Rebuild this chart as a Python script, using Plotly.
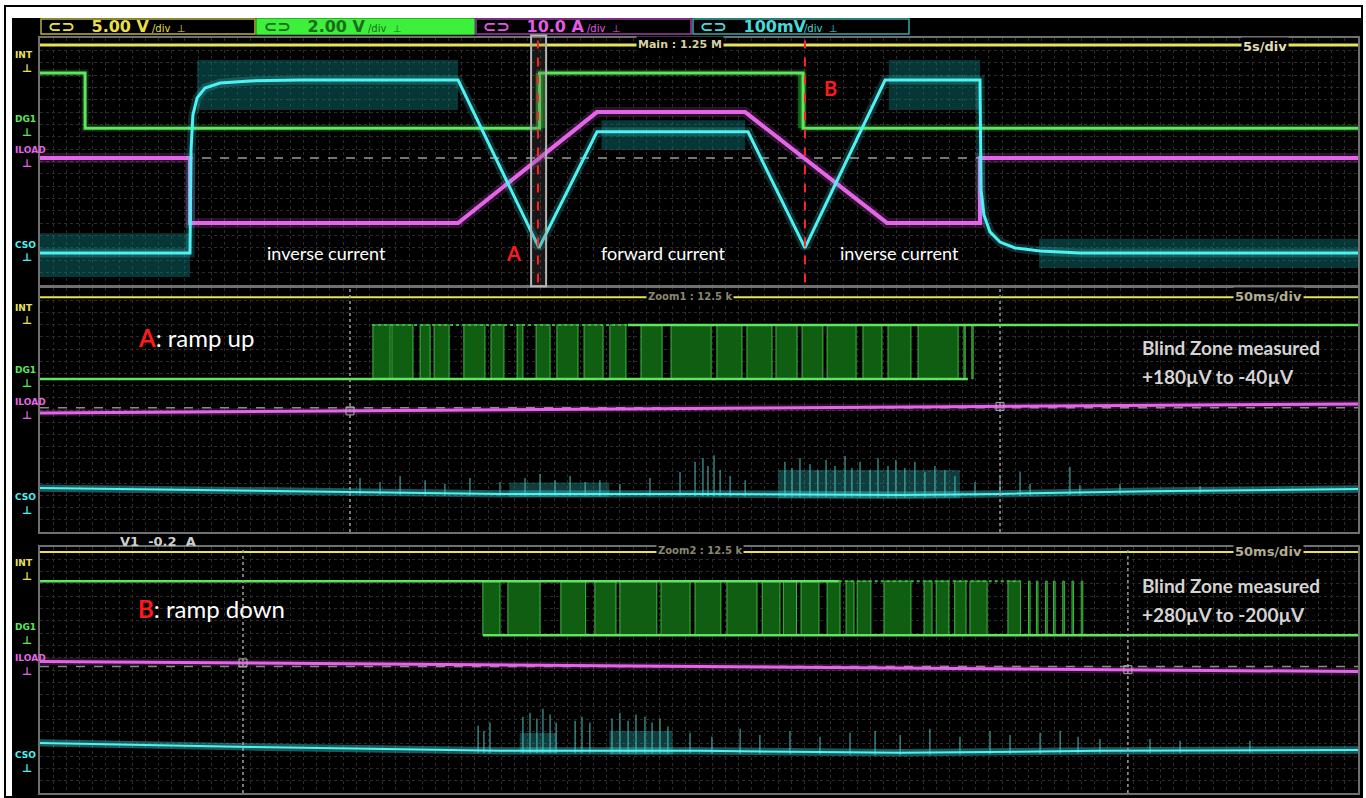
import plotly.graph_objects as go
import numpy as np

# ======================= DATA =======================
# Main window: time in s (5 s/div, 10 div), vertical in screen divisions (0..8)
main_int_t = [0, 50]
main_int_v = [7.77, 7.77]
main_dg1_t = [0, 1.71, 1.71, 18.95, 18.95, 28.95, 28.95, 50]
main_dg1_v = [6.87, 6.87, 5.08, 5.08, 6.87, 6.87, 5.08, 5.08]
main_dg1_burst_start = [18.80, 28.75]
main_dg1_burst_end = [19.20, 29.05]
main_iload_t = [0, 5.69, 5.69, 15.86, 21.13, 26.75, 32.13, 35.66, 35.66, 50]
main_iload_v = [4.11, 4.11, 2.01, 2.01, 5.60, 5.60, 2.01, 2.01, 4.11, 4.11]
main_iload_ref = 4.11
main_cso_t = [0, 5.69, 5.73, 5.80, 5.96, 6.26, 6.83, 7.97, 9.86, 15.86, 18.93, 21.13,
              26.86, 29.02, 32.06, 35.66, 35.70, 35.81, 36.04, 36.42, 36.99, 37.94, 39.45, 50]
main_cso_v = [1.04, 1.04, 4.37, 5.51, 6.06, 6.38, 6.54, 6.61, 6.64, 6.64, 1.20, 4.96,
              4.96, 1.20, 6.64, 6.64, 3.08, 2.27, 1.72, 1.39, 1.20, 1.10, 1.04, 1.04]
main_cso_band_t0 = [0, 5.96, 21.3, 32.2, 37.9]
main_cso_band_t1 = [5.69, 15.86, 26.75, 35.66, 50]
main_cso_band_lo = [0.26, 5.67, 4.37, 5.67, 0.55]
main_cso_band_hi = [1.68, 7.29, 5.34, 7.29, 1.50]
main_marker_t = [18.89, 29.02]          # cursor A, cursor B
main_zoom_window = [18.63, 19.20]

# Zoom 1 (ramp up): time in ms (50 ms/div)
z1_int_v = 7.70
z1_dg1_lo, z1_dg1_hi = 5.02, 6.79
z1_dg1_lo_t = [0, 352]
z1_dg1_hi_t = [223, 500]
z1_dg1_dim_t = [126, 223]
z1_burst_start = [126.3, 133.5, 144.2, 149.5, 160.8, 171.1, 181.0, 188.2, 196.1, 206.4, 216.2,
                  228.0, 239.4, 256.8, 268.2, 279.2, 289.1, 298.6, 312.2, 321.7, 333.1, 350.5, 353.5]
z1_burst_end = [132.8, 141.5, 148.0, 155.2, 168.8, 176.0, 183.2, 193.5, 204.1, 213.6, 222.3,
                236.0, 254.6, 266.3, 277.7, 287.2, 297.0, 309.6, 319.4, 330.4, 348.3, 351.0, 354.0]
z1_iload_t = [0, 250, 500]
z1_iload_v = [3.90, 4.05, 4.20]
z1_iload_ref = 4.07
z1_cso_t = [0, 60.7, 117.6, 174.5, 250.4, 326.3, 364.2, 421.1, 500]
z1_cso_v = [1.44, 1.38, 1.31, 1.25, 1.25, 1.21, 1.25, 1.34, 1.41]
z1_spike_t = [121.4, 129.0, 136.6, 146.1, 153.6, 163.1, 174.5, 184.0, 189.7, 195.4, 201.1, 206.8,
              212.4, 220.0, 231.4, 242.8, 248.5, 251.5, 253.4, 255.7, 258.0, 261.8, 267.5, 282.6,
              285.3, 288.3, 292.1, 295.1, 298.2, 301.6, 305.4, 308.0, 311.1, 314.9, 317.9, 321.7,
              324.7, 328.1, 331.9, 335.7, 339.5, 343.3, 347.1, 354.7, 364.2, 371.8, 375.6, 390.7,
              394.5, 409.7, 440.1]
z1_spike_top = [1.77, 1.64, 1.84, 1.70, 1.57, 1.77, 1.64, 1.77, 1.90, 1.70, 1.84, 1.64,
                1.70, 1.57, 1.77, 1.97, 2.30, 2.43, 2.16, 2.52, 2.03, 1.84, 1.70, 2.30,
                2.10, 2.43, 2.23, 2.03, 2.36, 2.16, 2.49, 2.10, 2.30, 2.03, 2.43, 2.16,
                2.36, 2.10, 2.30, 1.97, 2.16, 2.03, 1.84, 1.64, 1.77, 1.97, 1.57, 2.13,
                1.54, 1.57, 1.51]
z1_fuzz_t0 = [178, 280]
z1_fuzz_t1 = [216, 349]
z1_fuzz_lo = [1.15, 1.10]
z1_fuzz_hi = [1.62, 2.03]
z1_cursor_t = [117.6, 364.2]

# Zoom 2 (ramp down): time in ms (50 ms/div)
z2_int_v = 7.84
z2_dg1_lo, z2_dg1_hi = 5.13, 6.89
z2_dg1_hi_t = [0, 303]
z2_dg1_dim_t = [303, 372]
z2_dg1_lo_t = [168, 500]
z2_burst_start = [168.0, 177.5, 197.6, 210.5, 220.0, 235.6, 248.5, 260.6, 274.0, 282.0, 288.7,
                  298.6, 305.8, 310.0, 320.2, 335.4, 340.0, 347.0, 352.8, 367.2, 375.0, 378.0,
                  381.5, 384.5, 388.0, 391.5, 395.0]
z2_burst_end = [174.5, 189.7, 207.0, 218.5, 234.0, 246.6, 258.3, 272.0, 280.7, 287.0, 295.5,
                303.5, 308.8, 315.2, 330.4, 338.4, 344.8, 351.3, 359.3, 372.0, 375.6, 378.6,
                382.1, 385.1, 388.6, 392.1, 395.6]
z2_iload_t = [0, 250, 500]
z2_iload_v = [4.28, 4.12, 3.95]
z2_iload_ref = 4.11
z2_cso_t = [0, 79.7, 174.5, 250.4, 326.3, 402.1, 500]
z2_cso_v = [1.63, 1.50, 1.37, 1.37, 1.31, 1.37, 1.40]
z2_spike_t = [166.2, 168.4, 170.7, 183.2, 185.9, 188.5, 190.8, 193.5, 195.8, 203.0, 205.6, 208.6,
              217.0, 220.0, 223.1, 226.1, 229.5, 232.2, 235.2, 238.2, 246.6, 254.9, 265.6, 273.1,
              284.5, 295.9, 307.3, 316.8, 326.3, 337.6, 349.0, 360.4, 368.0, 379.4, 387.0, 393.8,
              402.1, 421.1, 432.5, 459.0]
z2_spike_top = [2.19, 2.02, 2.29, 2.48, 2.61, 2.42, 2.74, 2.55, 2.29, 2.35, 2.48, 2.29,
                2.42, 2.61, 2.35, 2.55, 2.48, 2.29, 2.42, 2.16, 1.96, 1.83, 2.09, 1.89,
                2.02, 1.83, 1.96, 2.02, 1.89, 2.09, 1.83, 2.02, 1.89, 1.96, 2.02, 1.83,
                1.76, 1.76, 1.70, 1.70]
z2_fuzz_t0 = [182, 216]
z2_fuzz_t1 = [196, 240]
z2_fuzz_lo = [1.30, 1.25]
z2_fuzz_hi = [1.95, 2.02]
z2_cursor_t = [77.0, 412.7]

header_labels = ["5.00 V", "2.00 V", "10.0 A", "100mV"]
channel_names = ["INT", "DG1", "ILOAD", "CSO"]

# ======================= STYLE / LAYOUT =======================
W, H = 1366, 798
YEL, GRN, MAG, CYA = "#e8e25a", "#5ee65e", "#e565ea", "#4ff2f2"
DKGRN = "#0f5e12"
BAND = "rgba(15,120,120,0.45)"
LBL_FONT = "DejaVu Sans"
TXT_FONT = "Lato"


def px(x):
    return x / W


def py(y):
    return 1 - y / H


X_DOM = [px(40), px(1358)]
PANELS = [
    dict(n="", ydom=[py(285), py(38)], xr=[0, 50], xd=0.5),
    dict(n="2", ydom=[py(532), py(288)], xr=[0, 500], xd=5),
    dict(n="3", ydom=[py(793), py(547)], xr=[0, 500], xd=5),
]

fig = go.Figure()


def add_line(t, v, color, width, n, dash=None, opacity=1.0):
    fig.add_trace(go.Scatter(x=t, y=v, mode="lines",
                             line=dict(color=color, width=width, dash=dash),
                             opacity=opacity, xaxis="x" + n, yaxis="y" + n,
                             hoverinfo="skip", showlegend=False))


def add_glow_line(t, v, color, width, n, glow=6):
    add_line(t, v, color, width + glow, n, opacity=0.18)
    add_line(t, v, color, width, n)


def add_boxes(t0, t1, lo, hi, fill, n, edge=None, ew=1.0):
    xs, ys = [], []
    for a, b, l, h in zip(t0, t1, lo, hi):
        xs += [a, b, b, a, a, None]
        ys += [l, l, h, h, l, None]
    fig.add_trace(go.Scatter(x=xs, y=ys, mode="lines", fill="toself", fillcolor=fill,
                             line=dict(color=edge if edge else "rgba(0,0,0,0)", width=ew),
                             xaxis="x" + n, yaxis="y" + n, hoverinfo="skip", showlegend=False))


def add_spikes(t, top, base_t, base_v, color, n):
    xs, ys = [], []
    for a, h in zip(t, top):
        b = float(np.interp(a, base_t, base_v)) - 0.08
        xs += [a, a, None]
        ys += [b, h, None]
    fig.add_trace(go.Scatter(x=xs, y=ys, mode="lines", line=dict(color=color, width=1.2),
                             xaxis="x" + n, yaxis="y" + n, hoverinfo="skip", showlegend=False))


def add_trace_band(t, v, half, color, n):
    # thickness of the noisy trace around its centre line
    fig.add_trace(go.Scatter(x=t, y=[a - half for a in v], mode="lines",
                             line=dict(width=0, color="rgba(0,0,0,0)"),
                             xaxis="x" + n, yaxis="y" + n, hoverinfo="skip", showlegend=False))
    fig.add_trace(go.Scatter(x=t, y=[a + half for a in v], mode="lines", fill="tonexty",
                             fillcolor=color, line=dict(width=0, color="rgba(0,0,0,0)"),
                             xaxis="x" + n, yaxis="y" + n, hoverinfo="skip", showlegend=False))


# ---------- panel 1: main ----------
n = ""
add_boxes(main_cso_band_t0, main_cso_band_t1, main_cso_band_lo, main_cso_band_hi, BAND, n)
add_line([0, 50], [main_iload_ref] * 2, "#9a9a9a", 1.5, n, dash="dash")
add_line(main_int_t, main_int_v, YEL, 3, n)
add_boxes(main_dg1_burst_start, main_dg1_burst_end, [5.08] * 2, [6.87] * 2, DKGRN, n)
add_glow_line(main_dg1_t, main_dg1_v, GRN, 3, n, glow=4)
add_glow_line(main_iload_t, main_iload_v, MAG, 4, n)
add_glow_line(main_cso_t, main_cso_v, CYA, 3, n)

# ---------- panel 2: zoom ramp up ----------
n = "2"
add_line([0, 500], [z1_iload_ref] * 2, "#8a8a8a", 1.5, n, dash="dash")
add_line([0, 500], [z1_int_v] * 2, YEL, 2, n)
add_boxes(z1_burst_start, z1_burst_end, [z1_dg1_lo] * len(z1_burst_start),
          [z1_dg1_hi] * len(z1_burst_start), DKGRN, n, edge="#3fb83f", ew=1)
add_line(z1_dg1_lo_t, [z1_dg1_lo] * 2, GRN, 2.5, n)
add_line(z1_dg1_hi_t, [z1_dg1_hi] * 2, GRN, 2.5, n)
add_line(z1_dg1_dim_t, [z1_dg1_hi] * 2, "#3fb83f", 2, n, dash="dot")
add_glow_line(z1_iload_t, z1_iload_v, MAG, 3, n, glow=4)
add_boxes(z1_fuzz_t0, z1_fuzz_t1, z1_fuzz_lo, z1_fuzz_hi, "rgba(40,150,150,0.40)", n)
add_spikes(z1_spike_t, z1_spike_top, z1_cso_t, z1_cso_v, "rgba(80,200,200,0.8)", n)
add_trace_band(z1_cso_t, z1_cso_v, 0.12, "rgba(60,200,200,0.45)", n)
add_line(z1_cso_t, z1_cso_v, CYA, 2, n)

# ---------- panel 3: zoom ramp down ----------
n = "3"
add_line([0, 500], [z2_iload_ref] * 2, "#8a8a8a", 1.5, n, dash="dash")
add_line([0, 500], [z2_int_v] * 2, YEL, 2, n)
add_boxes(z2_burst_start, z2_burst_end, [z2_dg1_lo] * len(z2_burst_start),
          [z2_dg1_hi] * len(z2_burst_start), DKGRN, n, edge="#3fb83f", ew=1)
add_line(z2_dg1_hi_t, [z2_dg1_hi] * 2, GRN, 2.5, n)
add_line(z2_dg1_dim_t, [z2_dg1_hi] * 2, "#3fb83f", 2, n, dash="dot")
add_line(z2_dg1_lo_t, [z2_dg1_lo] * 2, GRN, 2.5, n)
add_glow_line(z2_iload_t, z2_iload_v, MAG, 3, n, glow=4)
add_boxes(z2_fuzz_t0, z2_fuzz_t1, z2_fuzz_lo, z2_fuzz_hi, "rgba(40,150,150,0.40)", n)
add_spikes(z2_spike_t, z2_spike_top, z2_cso_t, z2_cso_v, "rgba(80,200,200,0.8)", n)
add_trace_band(z2_cso_t, z2_cso_v, 0.12, "rgba(60,200,200,0.45)", n)
add_line(z2_cso_t, z2_cso_v, CYA, 2, n)

# cursor square markers on ILOAD
for n, ct, it, iv in [("2", z1_cursor_t, z1_iload_t, z1_iload_v),
                      ("3", z2_cursor_t, z2_iload_t, z2_iload_v)]:
    fig.add_trace(go.Scatter(x=ct, y=list(np.interp(ct, it, iv)), mode="markers",
                             marker=dict(symbol="square-open", size=8, color="#b0b0b0"),
                             xaxis="x" + n, yaxis="y" + n, hoverinfo="skip", showlegend=False))

# ---------- axes ----------
layout_axes = {}
for p in PANELS:
    n = p["n"]
    layout_axes["xaxis" + n] = dict(domain=X_DOM, range=p["xr"], anchor="y" + n,
                                    showticklabels=False, ticks="", showgrid=True,
                                    gridcolor="#2c2c2c", griddash="dot", gridwidth=1,
                                    tick0=0, dtick=p["xd"], zeroline=False, showline=True,
                                    mirror=True, linecolor="#707070", linewidth=1.5,
                                    fixedrange=True)
    layout_axes["yaxis" + n] = dict(domain=p["ydom"], range=[0, 8], anchor="x" + n,
                                    showticklabels=False, ticks="", showgrid=True,
                                    gridcolor="#2c2c2c", griddash="dot", gridwidth=1,
                                    tick0=0, dtick=0.4, zeroline=False, showline=True,
                                    mirror=True, linecolor="#707070", linewidth=1.5,
                                    fixedrange=True)

shapes = []
# outer frame and black screen
shapes.append(dict(type="rect", xref="paper", yref="paper", x0=px(5), x1=px(1362),
                   y0=py(797), y1=py(6), line=dict(color="black", width=2),
                   fillcolor="white", layer="below"))
shapes.append(dict(type="rect", xref="paper", yref="paper", x0=px(12), x1=px(1361),
                   y0=py(796), y1=py(18), line=dict(width=0), fillcolor="black", layer="below"))
# header boxes
hdr_edges = [40, 256, 475, 692, 910]
hdr_fill = ["black", "#3cf03c", "black", "black"]
hdr_line = ["#b8b23a", "#3cf03c", "#a040a8", "#3aa8a8"]
hdr_text = ["#e6df4a", "#1d6b1d", "#e05ce0", "#46dada"]
for i in range(4):
    shapes.append(dict(type="rect", xref="paper", yref="paper", x0=px(hdr_edges[i] + 1),
                       x1=px(hdr_edges[i + 1] - 1), y0=py(34), y1=py(19),
                       line=dict(color=hdr_line[i], width=1.5), fillcolor=hdr_fill[i]))
# zoom window box and A/B marker lines in main panel
shapes.append(dict(type="rect", xref="x", yref="y domain", x0=main_zoom_window[0],
                   x1=main_zoom_window[1], y0=-0.005, y1=1.01,
                   line=dict(color="#b5b5b5", width=2), fillcolor="rgba(90,90,90,0.25)"))
for t in main_marker_t:
    shapes.append(dict(type="line", xref="x", yref="y domain", x0=t, x1=t, y0=0.01, y1=0.99,
                       line=dict(color="#ff2222", width=2, dash="dash")))
# cursors in zoom panels
for n, cts in [("2", z1_cursor_t), ("3", z2_cursor_t)]:
    for t in cts:
        shapes.append(dict(type="line", xref="x" + n, yref="y" + n + " domain", x0=t, x1=t,
                           y0=0, y1=1, line=dict(color="#a0a0a0", width=1.5, dash="dot")))

ann = []


def text(x, y, s, color, size, font=TXT_FONT, xanchor="center", bg=None, bold=False):
    if bold:
        s = "<b>" + s + "</b>"
    d = dict(x=px(x), y=py(y), xref="paper", yref="paper", text=s, showarrow=False,
             font=dict(color=color, size=size, family=font), xanchor=xanchor, yanchor="middle")
    if bg:
        d["bgcolor"] = bg
        d["borderpad"] = 1
    ann.append(d)


# header labels
hdr_text_x = [46, 262, 481, 698]
for i in range(4):
    text(hdr_text_x[i], 26.5, "⊂⊃   " + header_labels[i], hdr_text[i], 16,
         font=LBL_FONT, xanchor="left", bold=True)
    text(hdr_text_x[i] + 104, 29, "/div  ⊥", hdr_text[i], 10, font=LBL_FONT, xanchor="left")

# left channel labels
label_rows = [[55, 119, 150, 245], [308, 370, 402, 497], [563, 627, 658, 755]]
lbl_colors = [YEL, GRN, MAG, CYA]
for rows in label_rows:
    for name, yy, c in zip(channel_names, rows, lbl_colors):
        text(13, yy, name, c, 9, font=LBL_FONT, bold=True, xanchor="left")
        text(27, yy + 13, "⊥", c, 11, font=LBL_FONT, bold=True)

# scope on-screen texts
text(680, 45, "Main : 1.25 M", "#d6d2a0", 11, font=LBL_FONT, bg="black", bold=True)
text(1265, 46, "5s/div", "#e0dcb8", 13, font=LBL_FONT, bg="black", bold=True)
text(690, 296, "Zoom1 : 12.5 k", "#8a8770", 10, font=LBL_FONT, bg="black", bold=True)
text(1268, 297, "50ms/div", "#b0ad90", 13, font=LBL_FONT, bg="black", bold=True)
text(700, 550, "Zoom2 : 12.5 k", "#8a8770", 10, font=LBL_FONT, bg="black", bold=True)
text(1268, 551, "50ms/div", "#b0ad90", 13, font=LBL_FONT, bg="black", bold=True)
text(118, 541, "V1  -0.2  A", "#cfcfcf", 13, font=LBL_FONT, xanchor="left", bold=True)

# explanatory overlays
text(326, 253, "inverse current", "white", 18)
text(663, 253, "forward current", "white", 18)
text(899, 253, "inverse current", "white", 18)
text(513, 253, "A", "#ff1a1a", 20, bold=True)
text(830, 88, "B", "#ff1a1a", 20, bold=True)
text(136, 338, "<span style='color:#ff1a1a'><b>A</b></span>: ramp up", "white", 24, xanchor="left")
text(136, 608, "<span style='color:#ff1a1a'><b>B</b></span>: ramp down", "white", 24, xanchor="left")
text(1140, 347, "Blind Zone measured", "#d4d4d4", 19, xanchor="left", bold=True)
text(1140, 376, "+180µV to -40µV", "#d4d4d4", 19, xanchor="left", bold=True)
text(1140, 585, "Blind Zone measured", "#d4d4d4", 19, xanchor="left", bold=True)
text(1140, 614, "+280µV to -200µV", "#d4d4d4", 19, xanchor="left", bold=True)

fig.update_layout(width=W, height=H, margin=dict(l=0, r=0, t=0, b=0),
                  paper_bgcolor="white", plot_bgcolor="black", showlegend=False,
                  shapes=shapes, annotations=ann, **layout_axes)

fig.write_html("out.html", config={"displayModeBar": False},
               post_script="document.body.style.margin='0';")
